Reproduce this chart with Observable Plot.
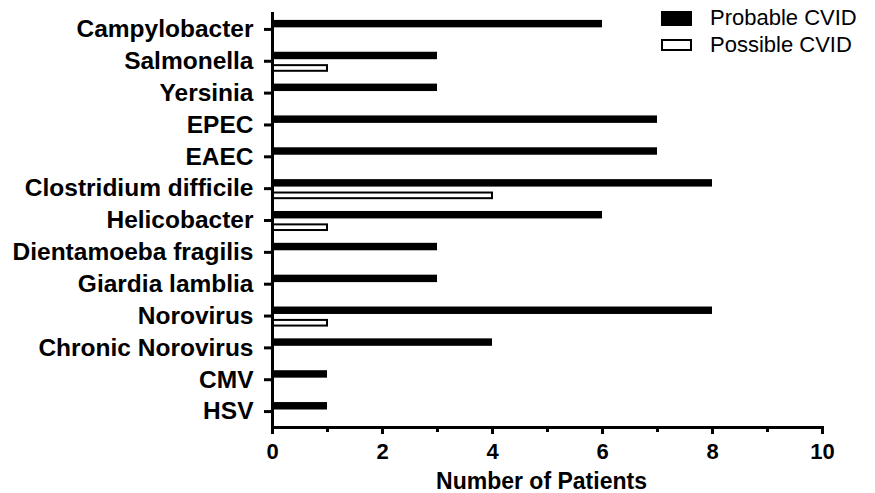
<!DOCTYPE html>
<html>
<head>
<meta charset="utf-8">
<script src="https://cdn.jsdelivr.net/npm/d3@7"></script>
<script src="https://cdn.jsdelivr.net/npm/@observablehq/plot@0.6"></script>
<style>
  html, body { margin: 0; padding: 0; background: white; }
  #wrap { position: relative; width: 875px; height: 493px; font-family: "Liberation Sans", Arial, sans-serif; }
  .sw { position: absolute; box-sizing: border-box; }
  .lt { position: absolute; font-size: 22px; line-height: 22px; color: black; white-space: nowrap; }
</style>
</head>
<body>
<div id="wrap"></div>
<script>
const categories = ["Campylobacter", "Salmonella", "Yersinia", "EPEC", "EAEC", "Clostridium difficile",
  "Helicobacter", "Dientamoeba fragilis", "Giardia lamblia", "Norovirus", "Chronic Norovirus", "CMV", "HSV"];
const probable = [6, 3, 3, 7, 7, 8, 6, 3, 3, 8, 4, 1, 1];
const possible = [0, 1, 0, 0, 0, 4, 1, 0, 0, 1, 0, 0, 0];
const seriesNames = ["Probable CVID", "Possible CVID"];
const xTicks = [0, 2, 4, 6, 8, 10];
const xMinorTicks = [1, 3, 5, 7, 9];
const xTitle = "Number of Patients";

const data = categories.map((c, i) => ({category: c, probable: probable[i], possible: possible[i]}));

const chart = Plot.plot({
  width: 875,
  height: 493,
  marginLeft: 272,
  marginRight: 53,
  marginTop: 13,
  marginBottom: 66,
  x: {domain: [0, 10]},
  y: {domain: categories, padding: 0, round: false},
  style: {fontFamily: "'Liberation Sans', Arial, sans-serif", color: "black", background: "white"},
  marks: [
    Plot.barX(data, {y: "category", x: "probable", fill: "black", insetTop: 6.9, insetBottom: 17.5}),
    Plot.barX(data.filter(d => d.possible > 0), {y: "category", x: "possible", fill: "white", stroke: "black", strokeWidth: 2, insetTop: 20.3, insetBottom: 5.9}),
    Plot.axisY({tickSize: 8, tickPadding: 11, fontSize: 24.5, fontWeight: "bold", strokeWidth: 3, label: null}),
    Plot.axisX({ticks: xTicks, tickSize: 7, tickPadding: 9, fontSize: 22, fontWeight: "bold", strokeWidth: 3, label: null}),
    Plot.axisX({ticks: xMinorTicks, tickSize: 5, tickFormat: () => "", strokeWidth: 3, label: null}),
    Plot.frame({anchor: "left", strokeWidth: 3}),
    Plot.frame({anchor: "bottom", strokeWidth: 3}),
    Plot.text([xTitle], {text: d => d, frameAnchor: "bottom", dy: 61, dx: -6, lineAnchor: "bottom", fontSize: 23, fontWeight: "bold"})
  ]
});

const wrap = document.getElementById("wrap");
wrap.appendChild(chart);

const sw1 = document.createElement("div");
sw1.className = "sw";
Object.assign(sw1.style, {left: "661px", top: "11px", width: "31px", height: "15px", background: "black"});
wrap.appendChild(sw1);
const sw2 = document.createElement("div");
sw2.className = "sw";
Object.assign(sw2.style, {left: "661px", top: "39px", width: "31px", height: "12px", background: "white", border: "2px solid black"});
wrap.appendChild(sw2);
[[seriesNames[0], 7], [seriesNames[1], 34]].forEach(([t, top]) => {
  const s = document.createElement("div");
  s.className = "lt";
  s.textContent = t;
  s.style.left = "710px";
  s.style.top = top + "px";
  wrap.appendChild(s);
});
</script>
</body>
</html>
